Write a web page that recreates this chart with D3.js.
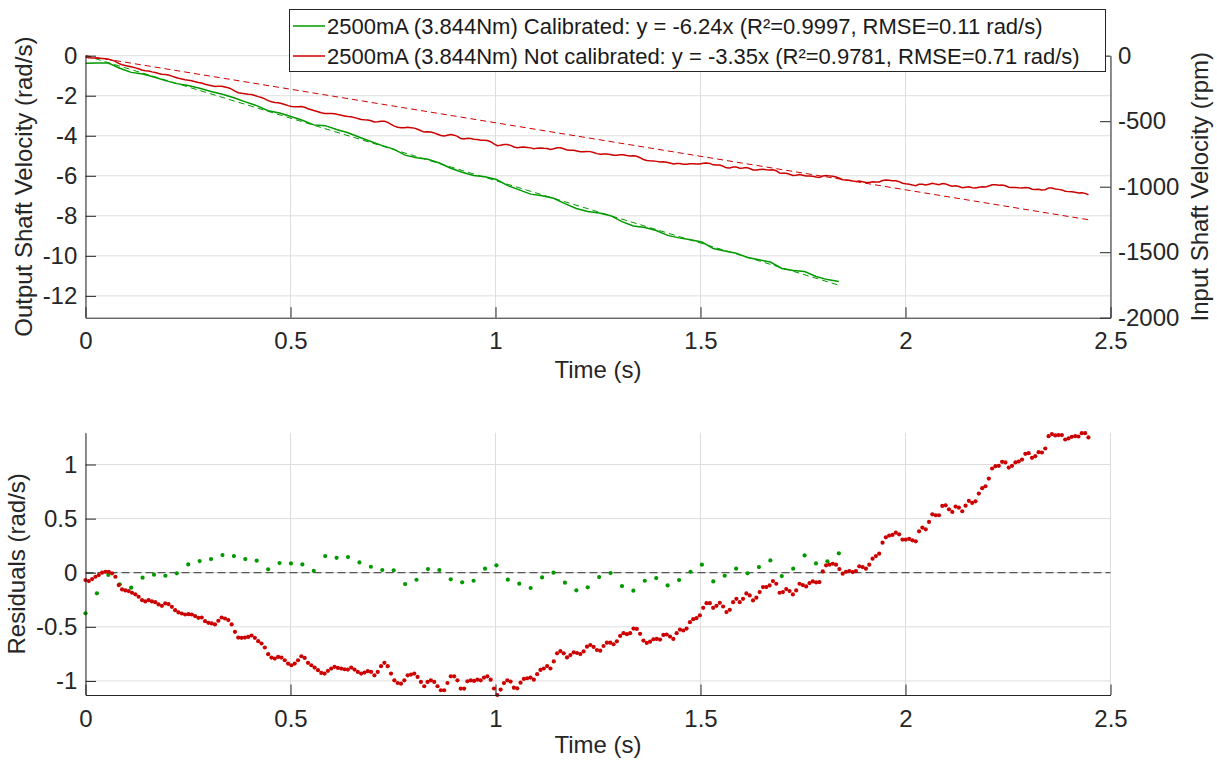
<!DOCTYPE html>
<html><head><meta charset="utf-8">
<script src="https://cdn.jsdelivr.net/npm/d3@7"></script>
<style>
body{margin:0;background:#fff;}
text{font-family:"Liberation Sans",Arial,Helvetica,sans-serif;}
</style>
</head><body>
<svg id="c" width="1217" height="761"></svg>
<script>
// ---------------- DATA ----------------
const slopeCal = -6.24;          // fitted slope, calibrated (rad/s per s)
const slopeNot = -3.35;          // fitted slope, not calibrated
const dtCal = 0.02784;           // sample step of calibrated series (s)
const dtNot = 0.0081;            // sample step of not-calibrated series (s)

// residuals (rad/s), calibrated (green)
const residCal = [
 -0.375,-0.190,-0.020,-0.107,-0.138,-0.046,-0.018,-0.028,-0.006,0.077,
 0.108,0.126,0.163,0.154,0.126,0.111,0.031,0.089,0.086,0.077,
 0.018,0.154,0.138,0.145,0.095,0.055,0.025,0.022,-0.105,-0.065,
 0.034,0.025,-0.061,-0.089,-0.074,0.037,0.068,-0.064,-0.101,-0.141,
 -0.043,0.000,-0.092,-0.163,-0.135,-0.040,-0.003,-0.123,-0.166,-0.074,
 -0.049,-0.117,-0.068,0.009,0.074,-0.080,-0.028,0.037,-0.006,0.052,
 0.114,-0.031,0.037,0.160,0.086,0.105,0.179
];

// residuals (rad/s) read from the lower plot, not calibrated (red)
const residNot = [
 -0.068,-0.077,-0.059,-0.037,-0.022,0.000,0.009,0.009,-0.006,-0.037,
 -0.114,-0.154,-0.164,-0.170,-0.185,-0.200,-0.222,-0.253,-0.265,-0.253,
 -0.265,-0.272,-0.293,-0.306,-0.284,-0.290,-0.315,-0.346,-0.367,-0.377,
 -0.386,-0.383,-0.386,-0.401,-0.417,-0.414,-0.448,-0.463,-0.469,-0.478,
 -0.444,-0.414,-0.423,-0.438,-0.478,-0.546,-0.599,-0.602,-0.599,-0.593,
 -0.580,-0.602,-0.633,-0.654,-0.691,-0.753,-0.784,-0.793,-0.778,-0.784,
 -0.809,-0.840,
 -0.855,-0.840,-0.809,-0.772,-0.787,-0.833,-0.855,-0.877,-0.901,-0.926,
 -0.932,-0.907,-0.886,-0.870,-0.880,-0.886,-0.892,-0.895,-0.877,-0.895,
 -0.917,-0.932,-0.923,-0.910,-0.917,-0.948,-0.917,-0.864,-0.833,-0.864,
 -0.932,-0.994,-1.019,-1.025,-0.994,-0.948,-0.941,-0.932,-0.963,-1.009,
 -1.049,-1.009,-0.994,-1.009,-1.049,-1.086,-1.086,-1.019,-0.957,-0.957,
 -0.994,-1.071,-1.071,-1.003,-0.994,-1.000,-0.988,-0.994,-0.969,-0.957,
 -0.988,
 -1.070,-1.130,-1.080,-1.020,-0.994,
 -1.006,-1.062,-1.068,-1.016,-0.981,-0.975,-0.969,-0.988,-0.938,-0.898,
 -0.885,-0.863,-0.885,-0.820,-0.745,-0.724,-0.745,-0.783,-0.761,-0.736,
 -0.742,-0.752,-0.727,-0.683,-0.668,-0.686,-0.714,-0.720,-0.677,-0.646,
 -0.646,-0.661,-0.634,-0.584,-0.559,-0.568,-0.559,-0.516,-0.519,-0.565,
 -0.627,-0.649,-0.637,-0.615,-0.612,-0.618,-0.575,-0.571,-0.590,-0.612,
 -0.559,-0.525,-0.534,-0.516,-0.457,-0.429,-0.419,
 -0.395,-0.324,-0.281,-0.281,-0.324,-0.306,-0.278,-0.312,-0.364,-0.343,
 -0.272,-0.241,-0.272,-0.241,-0.191,-0.210,-0.256,-0.231,-0.179,-0.133,
 -0.133,-0.117,-0.077,-0.102,-0.185,-0.179,-0.151,-0.170,-0.201,-0.164,
 -0.102,-0.114,-0.127,-0.096,-0.080,-0.090,-0.086,0.012,0.068,0.074,
 0.083,0.074,0.034,-0.009,0.009,0.015,0.006,0.015,0.059,0.052,
 0.037,0.074,0.130,0.154,0.176,0.278,0.327,0.343,0.349,0.370,
 0.355,0.306,
 0.306,0.312,0.299,0.290,0.383,0.417,0.401,0.469,0.540,0.531,
 0.531,0.617,0.623,0.586,0.562,0.611,0.602,0.568,0.620,0.664,
 0.645,0.660,0.731,0.781,0.799,0.870,0.963,0.985,0.988,1.025,
 1.019,0.972,0.988,1.019,1.028,1.046,1.099,1.105,1.062,1.077,
 1.114,1.111,1.148,1.262,1.281,1.269,1.272,1.272,1.231,1.241,
 1.256,1.262,1.259,1.290,1.290,1.250
];

const legendLabels = [
 "2500mA (3.844Nm) Calibrated: y = -6.24x (R²=0.9997, RMSE=0.11 rad/s)",
 "2500mA (3.844Nm) Not calibrated: y = -3.35x (R²=0.9781, RMSE=0.71 rad/s)"
];
const xTicks = [0, 0.5, 1, 1.5, 2, 2.5];
const yTicksLeft = [-12, -10, -8, -6, -4, -2, 0];
const yTicksRight = [-2000, -1500, -1000, -500, 0];
const yTicksResid = [-1, -0.5, 0, 0.5, 1];
const tRange = [0, 2.5];
const radRange = [-13.09, 0];
const rpmRange = [-2000, 0];
const residRange = [-1.13, 1.294];

// ---------------- DERIVED SERIES ----------------
const calPts = residCal.map((r, i) => ({t: i * dtCal, r: r, v: slopeCal * i * dtCal + r}));
const notPts = residNot.map((r, i) => ({t: i * dtNot, r: r, v: slopeNot * i * dtNot + r}));
const calFit = [0, calPts[calPts.length - 1].t].map(t => ({t, v: slopeCal * t}));
const notFit = [0, notPts[notPts.length - 1].t].map(t => ({t, v: slopeNot * t}));

// ---------------- STYLE ----------------
const GREEN = "#009900", RED = "#cc0000", AX = "#262626", GRID = "#dedede";
const FS = 24, LFS = 22;

const svg = d3.select("#c");
const L = 85.5, R = 1110.5;
const T1 = 55.7, B1 = 317.7, T2 = 432.7, B2 = 695;

const x = d3.scaleLinear().domain(tRange).range([L, R]);
const yL = d3.scaleLinear().domain(radRange).range([B1, T1]);
const yR = d3.scaleLinear().domain(rpmRange).range([B1, T1]);
const yRes = d3.scaleLinear().domain(residRange).range([B2, T2]);

const defs = svg.append("defs");
defs.append("clipPath").attr("id", "clip1").append("rect")
  .attr("x", L).attr("y", T1 - 3).attr("width", R - L).attr("height", B1 - T1 + 3);
defs.append("clipPath").attr("id", "clip2").append("rect")
  .attr("x", L - 3).attr("y", T2 - 4).attr("width", R - L + 6).attr("height", B2 - T2 + 8);

function styleAxis(g) {
  g.selectAll("path.domain").attr("stroke", AX).attr("stroke-width", 1);
  g.selectAll(".tick line").attr("stroke", AX).attr("stroke-width", 1);
  g.selectAll(".tick text").attr("fill", AX).style("font-size", FS + "px")
    .style("font-family", '"Liberation Sans",Arial,Helvetica,sans-serif');
}
const fmt = d => String(d);

// ---------- TOP PANEL ----------
const g1 = svg.append("g");
// grid
g1.append("g").selectAll("line").data(yTicksLeft).join("line")
  .attr("x1", L).attr("x2", R).attr("y1", d => yL(d)).attr("y2", d => yL(d))
  .attr("stroke", GRID).attr("stroke-width", 1);
g1.append("g").selectAll("line").data(xTicks).join("line")
  .attr("y1", T1).attr("y2", B1).attr("x1", d => x(d)).attr("x2", d => x(d))
  .attr("stroke", GRID).attr("stroke-width", 1);

const line1 = d3.line().x(d => x(d.t)).y(d => yL(d.v));
const plot1 = g1.append("g").attr("clip-path", "url(#clip1)");
plot1.append("path").datum(calPts).attr("d", line1).attr("fill", "none")
  .attr("stroke", GREEN).attr("stroke-width", 1.5);
plot1.append("path").datum(calFit).attr("d", line1).attr("fill", "none")
  .attr("stroke", GREEN).attr("stroke-width", 1).attr("stroke-dasharray", "6,4");
plot1.append("path").datum(notPts).attr("d", line1).attr("fill", "none")
  .attr("stroke", RED).attr("stroke-width", 1.5);
plot1.append("path").datum(notFit).attr("d", line1).attr("fill", "none")
  .attr("stroke", RED).attr("stroke-width", 1).attr("stroke-dasharray", "6,4");

// axes
g1.append("g").attr("transform", `translate(${L},0)`)
  .call(d3.axisLeft(yL).tickValues(yTicksLeft).tickFormat(fmt)
    .tickSizeInner(-10.5).tickSizeOuter(0).tickPadding(8.2)).call(styleAxis);
g1.append("g").attr("transform", `translate(${R},0)`)
  .call(d3.axisRight(yR).tickValues(yTicksRight).tickFormat(fmt)
    .tickSizeInner(-10.5).tickSizeOuter(0).tickPadding(7.5)).call(styleAxis);
g1.append("g").attr("transform", `translate(0,${B1})`)
  .call(d3.axisBottom(x).tickValues(xTicks).tickFormat(fmt)
    .tickSizeInner(-10.5).tickSizeOuter(0).tickPadding(14.5)).call(styleAxis);

g1.append("text").attr("transform", `translate(32,${(T1 + B1) / 2}) rotate(-90)`)
  .attr("text-anchor", "middle").attr("fill", AX).style("font-size", FS + "px")
  .text("Output Shaft Velocity (rad/s)");
g1.append("text").attr("transform", `translate(1207.5,${(T1 + B1) / 2}) rotate(-90)`)
  .attr("text-anchor", "middle").attr("fill", AX).style("font-size", FS + "px")
  .text("Input Shaft Velocity (rpm)");
g1.append("text").attr("x", (L + R) / 2).attr("y", 378)
  .attr("text-anchor", "middle").attr("fill", AX).style("font-size", FS + "px")
  .text("Time (s)");

// legend
const lg = svg.append("g");
lg.append("rect").attr("x", 289.5).attr("y", 9.5).attr("width", 816).attr("height", 62)
  .attr("fill", "#fff").attr("stroke", AX).attr("stroke-width", 1);
const legColors = [GREEN, RED];
legendLabels.forEach((lab, i) => {
  const cy = 26 + i * 30;
  lg.append("line").attr("x1", 293).attr("x2", 325).attr("y1", cy).attr("y2", cy)
    .attr("stroke", legColors[i]).attr("stroke-width", 1.5);
  lg.append("text").attr("x", 327).attr("y", cy + 8).attr("fill", "#1a1a1a")
    .style("font-size", LFS + "px").text(lab);
});

// ---------- BOTTOM PANEL ----------
const g2 = svg.append("g");
g2.append("g").selectAll("line").data(yTicksResid).join("line")
  .attr("x1", L).attr("x2", R).attr("y1", d => yRes(d)).attr("y2", d => yRes(d))
  .attr("stroke", GRID).attr("stroke-width", 1);
g2.append("g").selectAll("line").data(xTicks).join("line")
  .attr("y1", T2).attr("y2", B2).attr("x1", d => x(d)).attr("x2", d => x(d))
  .attr("stroke", GRID).attr("stroke-width", 1);
g2.append("line").attr("x1", L).attr("x2", R).attr("y1", yRes(0)).attr("y2", yRes(0))
  .attr("stroke", "#555").attr("stroke-width", 1.2).attr("stroke-dasharray", "8,4");

const plot2 = g2.append("g").attr("clip-path", "url(#clip2)");
plot2.append("g").selectAll("circle").data(calPts).join("circle")
  .attr("cx", d => x(d.t)).attr("cy", d => yRes(d.r)).attr("r", 2.1).attr("fill", GREEN);
plot2.append("g").selectAll("circle").data(notPts).join("circle")
  .attr("cx", d => x(d.t)).attr("cy", d => yRes(d.r)).attr("r", 2.1).attr("fill", RED);

g2.append("g").attr("transform", `translate(${L},0)`)
  .call(d3.axisLeft(yRes).tickValues(yTicksResid).tickFormat(fmt)
    .tickSizeInner(-10.5).tickSizeOuter(0).tickPadding(8.2)).call(styleAxis);
g2.append("g").attr("transform", `translate(0,${B2})`)
  .call(d3.axisBottom(x).tickValues(xTicks).tickFormat(fmt)
    .tickSizeInner(-10.5).tickSizeOuter(0).tickPadding(14.5)).call(styleAxis);

g2.append("text").attr("transform", `translate(24.5,${(T2 + B2) / 2}) rotate(-90)`)
  .attr("text-anchor", "middle").attr("fill", AX).style("font-size", FS + "px")
  .text("Residuals (rad/s)");
g2.append("text").attr("x", (L + R) / 2).attr("y", 752.5)
  .attr("text-anchor", "middle").attr("fill", AX).style("font-size", FS + "px")
  .text("Time (s)");
</script>
</body></html>
